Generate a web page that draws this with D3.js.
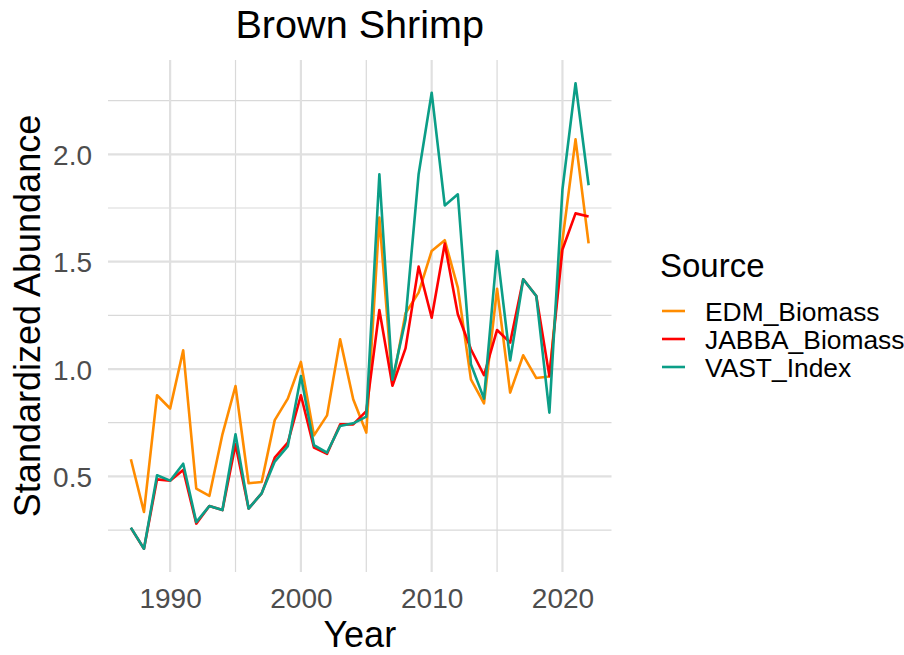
<!DOCTYPE html>
<html>
<head>
<meta charset="utf-8">
<script src="https://cdn.jsdelivr.net/npm/d3@7"></script>
<style>
  html, body { margin: 0; padding: 0; background: #fff; }
  svg { display: block; font-family: "Liberation Sans", Arial, Helvetica, sans-serif; }
</style>
</head>
<body>
<svg id="chart" width="904" height="655"></svg>
<script>
const years = d3.range(1987, 2023);
const edmBiomass = [0.58, 0.334, 0.878, 0.816, 1.087, 0.443, 0.409, 0.696, 0.921, 0.468, 0.474, 0.762, 0.862, 1.033, 0.691, 0.784, 1.138, 0.859, 0.704, 1.705, 0.93, 1.26, 1.356, 1.55, 1.60, 1.379, 0.952, 0.84, 1.374, 0.89, 1.064, 0.958, 0.965, 1.60, 2.07, 1.585];
const jabbaBiomass = [0.26, 0.163, 0.486, 0.48, 0.53, 0.28, 0.362, 0.343, 0.649, 0.35, 0.421, 0.587, 0.657, 0.878, 0.634, 0.605, 0.742, 0.742, 0.804, 1.275, 0.922, 1.096, 1.477, 1.239, 1.584, 1.255, 1.092, 0.971, 1.182, 1.123, 1.418, 1.34, 0.967, 1.557, 1.725, 1.71];
const vastIndex = [0.261, 0.163, 0.505, 0.48, 0.559, 0.287, 0.362, 0.343, 0.696, 0.35, 0.421, 0.569, 0.641, 0.967, 0.645, 0.611, 0.735, 0.747, 0.778, 1.907, 0.95, 1.23, 1.907, 2.287, 1.762, 1.814, 1.022, 0.862, 1.55, 1.04, 1.418, 1.34, 0.797, 1.837, 2.331, 1.856];
const seriesNames = ["EDM_Biomass", "JABBA_Biomass", "VAST_Index"];
const seriesColors = ["#FF8C00", "#FF0000", "#0B9E87"];
const xMajorTicks = [1990, 2000, 2010, 2020];
const xMinorTicks = [1995, 2005, 2015];
const yMajorTicks = [0.5, 1.0, 1.5, 2.0];
const yMinorTicks = [0.25, 0.75, 1.25, 1.75, 2.25];

const series = [edmBiomass, jabbaBiomass, vastIndex].map((vals, i) => ({
  name: seriesNames[i], color: seriesColors[i],
  values: years.map((yr, j) => ({ year: yr, v: vals[j] }))
}));

const svg = d3.select("#chart");
const panel = { left: 108, right: 611.5, top: 60, bottom: 572 };

const allV = [].concat(edmBiomass, jabbaBiomass, vastIndex);
const yMin = d3.min(allV), yMax = d3.max(allV);
const yPad = (yMax - yMin) * 0.05;
const xMin = d3.min(years), xMax = d3.max(years);
const xPad = (xMax - xMin) * 0.05;

const x = d3.scaleLinear().domain([xMin - xPad, xMax + xPad]).range([panel.left, panel.right]);
const y = d3.scaleLinear().domain([yMin - yPad, yMax + yPad]).range([panel.bottom, panel.top]);

const grid = svg.append("g");
grid.selectAll(".ymin").data(yMinorTicks).join("line")
  .attr("x1", panel.left).attr("x2", panel.right)
  .attr("y1", d => y(d)).attr("y2", d => y(d))
  .attr("stroke", "#d9d9d9").attr("stroke-width", 1.2);
grid.selectAll(".xmin").data(xMinorTicks).join("line")
  .attr("y1", panel.top).attr("y2", panel.bottom)
  .attr("x1", d => x(d)).attr("x2", d => x(d))
  .attr("stroke", "#d9d9d9").attr("stroke-width", 1.2);
grid.selectAll(".ymaj").data(yMajorTicks).join("line")
  .attr("x1", panel.left).attr("x2", panel.right)
  .attr("y1", d => y(d)).attr("y2", d => y(d))
  .attr("stroke", "#e0e0e0").attr("stroke-width", 2.2);
grid.selectAll(".xmaj").data(xMajorTicks).join("line")
  .attr("y1", panel.top).attr("y2", panel.bottom)
  .attr("x1", d => x(d)).attr("x2", d => x(d))
  .attr("stroke", "#e0e0e0").attr("stroke-width", 2.2);

// axes (text only, like theme_minimal)
const xAxis = svg.append("g").attr("transform", `translate(0,${panel.bottom})`)
  .call(d3.axisBottom(x).tickValues(xMajorTicks).tickFormat(d3.format("d")).tickSize(0).tickPadding(0));
xAxis.select(".domain").remove();
xAxis.selectAll("text").attr("font-size", 28).attr("fill", "#4d4d4d")
  .attr("font-family", "Liberation Sans, Arial, sans-serif").attr("dy", null).attr("y", 36);

const yAxis = svg.append("g").attr("transform", `translate(${panel.left},0)`)
  .call(d3.axisLeft(y).tickValues(yMajorTicks).tickFormat(d3.format(".1f")).tickSize(0).tickPadding(0));
yAxis.select(".domain").remove();
yAxis.selectAll("text").attr("font-size", 28).attr("fill", "#4d4d4d")
  .attr("font-family", "Liberation Sans, Arial, sans-serif").attr("x", -16).attr("dy", "0.36em");

// lines
const line = d3.line().x(d => x(d.year)).y(d => y(d.v));
svg.append("g").selectAll("path").data(series).join("path")
  .attr("d", d => line(d.values))
  .attr("fill", "none").attr("stroke", d => d.color)
  .attr("stroke-width", 2.6).attr("stroke-linejoin", "round");

// title
svg.append("text").attr("x", (panel.left + panel.right) / 2).attr("y", 38)
  .attr("text-anchor", "middle").attr("font-size", 39.6).attr("fill", "#000").text("Brown Shrimp");
// axis titles
svg.append("text").attr("x", (panel.left + panel.right) / 2).attr("y", 647)
  .attr("text-anchor", "middle").attr("font-size", 36).attr("fill", "#000").text("Year");
svg.append("text").attr("transform", `translate(40,${(panel.top + panel.bottom) / 2}) rotate(-90)`)
  .attr("text-anchor", "middle").attr("font-size", 36).attr("fill", "#000").text("Standardized Abundance");

// legend
const legend = svg.append("g").attr("transform", "translate(660,0)");
legend.append("text").attr("x", 0).attr("y", 277).attr("font-size", 33).attr("fill", "#000").text("Source");
const items = legend.selectAll(".item").data(series).join("g")
  .attr("transform", (d, i) => `translate(0,${311 + i * 28})`);
items.append("line").attr("x1", 2).attr("x2", 25).attr("y1", 0).attr("y2", 0)
  .attr("stroke", d => d.color).attr("stroke-width", 2.6);
items.append("text").attr("x", 45).attr("y", 0).attr("dy", "0.36em")
  .attr("font-size", 26.4).attr("fill", "#000").text(d => d.name);
</script>
</body>
</html>
